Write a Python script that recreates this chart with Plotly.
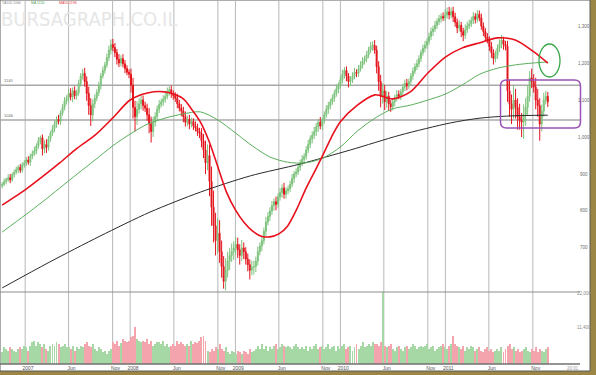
import pandas as pd
import plotly.graph_objects as go

W, H = 596, 375

# ---------------- data (weekly) ----------------
first_open = 868
closes = [
    # 2006 Oct-Dec
    872, 880, 885, 890, 884, 898, 905, 912, 918, 910, 925, 930,
    # 2007
    938, 932, 948, 955, 962, 975, 990, 998, 968, 980, 972, 995, 1010,
    1022, 1035, 1048, 1042, 1065, 1080, 1098, 1105, 1118, 1108, 1125, 1112, 1120,
    1145, 1165, 1172, 1150, 1118, 1085, 1060, 1090, 1105, 1120, 1138, 1165, 1180,
    1195, 1215, 1235, 1250, 1242, 1228, 1210, 1200, 1212, 1198, 1185, 1175, 1170,
    # 2008
    1140, 1080, 1055, 1075, 1090, 1100, 1085, 1078, 1060, 1035, 1015, 1040, 1055,
    1075, 1088, 1095, 1102, 1110, 1122, 1128, 1118, 1112, 1105, 1090, 1078, 1070,
    1055, 1040, 1048, 1035, 1042, 1030, 1025, 1015, 1010, 990, 965, 930, 950,
    880, 810, 760, 720, 740, 690, 650, 610, 640, 665, 680, 690, 700,
    # 2009
    710, 695, 680, 700, 690, 670, 655, 640, 648, 650, 665, 690, 705,
    720, 745, 770, 785, 800, 815, 825, 818, 838, 850, 862, 845, 855,
    860, 872, 888, 900, 905, 918, 930, 940, 948, 965, 980, 995, 1005,
    1015, 1028, 1040, 1030, 1045, 1060, 1075, 1085, 1095, 1105, 1118, 1130, 1140,
    # 2010
    1155, 1170, 1180, 1165, 1150, 1155, 1165, 1175, 1172, 1185, 1195, 1205, 1212,
    1222, 1235, 1245, 1248, 1235, 1190, 1150, 1110, 1125, 1095, 1110, 1090, 1082,
    1095, 1105, 1115, 1110, 1122, 1135, 1145, 1138, 1150, 1165, 1178, 1190, 1198,
    1212, 1228, 1240, 1248, 1258, 1272, 1285, 1292, 1302, 1312, 1320, 1326, 1322, 1330,
    # 2011
    1338, 1330, 1340, 1325, 1310, 1295, 1302, 1285, 1275, 1290, 1300, 1306,
    1315, 1326, 1318, 1332, 1322, 1300, 1285, 1270, 1262, 1245, 1228, 1212, 1220,
    1240, 1252, 1262, 1250, 1245, 1125, 1090, 1075, 1100, 1080, 1055, 1045, 1040, 1060,
    1080, 1110, 1160, 1150, 1135, 1100, 1085, 1035, 1070, 1100, 1110, 1095,
]
upper_wicks = [
    6, 8, 5, 9, 10, 6, 7, 8, 6, 9, 7, 8,
    8, 10, 7, 9, 12, 8, 10, 6, 9, 11, 14, 8, 7, 10, 9, 8, 12, 7, 9, 10, 8,
    11, 14, 9, 12, 8, 10, 8, 12, 15, 14, 18, 20, 12, 10, 9, 11, 8, 10,
    8, 10, 12, 14, 15, 12, 10, 14, 9, 12, 10, 9, 8,
    15, 20, 18, 22, 15, 14, 12, 10, 12, 18, 20, 15, 12, 10, 12, 9, 11,
    10, 12, 9, 11, 8, 9, 12, 10, 11, 12, 14, 10, 12, 10, 9, 12, 11, 10,
    14, 18, 25, 30, 30, 40, 45, 35, 40, 35, 30, 28, 32, 25, 20, 22, 18,
    20, 18, 15, 22, 15, 12, 15, 14, 18, 15, 12, 14, 10, 12, 10, 14, 12,
    10, 12, 9, 14, 10, 12, 10, 14, 9, 9, 10, 12, 8, 10, 10, 9, 11, 8,
    10, 12, 9, 10, 12, 10, 9, 14, 8, 9, 11, 10, 8, 10, 9, 12, 8,
    10, 12, 9, 11, 8, 9, 10, 12, 8, 9, 10, 11, 8, 10, 9, 12, 11, 14,
    12, 15, 18, 20, 16, 14, 12, 10, 10, 9, 12, 11, 8, 9, 10, 12, 8,
    8, 10, 9, 11, 9, 8, 10, 12, 9, 10, 11, 9, 12, 9, 10, 8, 11, 14,
    12, 14, 10, 12, 11, 10, 14, 9, 10, 14, 12, 11, 10, 12, 9, 11, 10,
    12, 10, 9, 11, 10, 12, 9, 14, 10, 12, 14, 9, 10, 15, 30, 25, 40,
    30, 25, 35, 20, 28, 25, 30, 18, 25, 20, 25, 30, 20, 18, 20, 15, 12,
]
lower_wicks = [
    7, 5, 8, 6, 9, 5, 8, 6, 10, 7, 6, 8,
    9, 7, 10, 8, 6, 9, 7, 10, 18, 12, 15, 9, 8, 7, 9, 10, 8, 9, 7, 8, 10,
    12, 9, 14, 10, 11, 8, 9, 10, 14, 20, 25, 30, 18, 12, 8, 9, 10, 7,
    9, 8, 10, 12, 10, 12, 14, 11, 9, 10, 12, 8, 11,
    20, 30, 40, 22, 12, 15, 14, 10, 16, 25, 30, 15, 12, 9, 10, 8, 11,
    9, 8, 10, 12, 11, 10, 12, 9, 14, 15, 12, 10, 14, 9, 11, 10, 12, 13,
    18, 22, 30, 20, 40, 50, 45, 40, 35, 30, 30, 20, 25, 20, 25, 18, 22,
    18, 22, 25, 15, 20, 15, 18, 25, 14, 20, 15, 12, 10, 14, 10, 12, 9,
    12, 10, 14, 16, 9, 10, 14, 12, 11, 10, 9, 8, 12, 9, 8, 10, 9, 11,
    9, 8, 10, 12, 10, 12, 14, 9, 11, 9, 8, 12, 10, 8, 10, 9, 12,
    9, 10, 12, 14, 16, 12, 9, 8, 10, 9, 8, 10, 9, 10, 9, 8, 12, 10,
    18, 25, 30, 20, 22, 16, 20, 14, 10, 12, 9, 8, 10, 9, 11, 12, 8,
    9, 10, 8, 9, 10, 9, 8, 11, 9, 9, 10, 12, 8, 10, 9, 11, 8, 9,
    10, 12, 9, 14, 12, 14, 10, 15, 16, 10, 9, 8, 9, 10, 11, 8, 9,
    10, 12, 11, 9, 12, 14, 16, 10, 9, 10, 12, 14, 11, 30, 35, 40, 25,
    30, 35, 25, 40, 45, 30, 20, 15, 18, 15, 25, 30, 45, 20, 15, 12, 14,
]
volumes = [
    3600, 5150, 4630, 4120, 5150, 4630, 4120, 3600, 4630, 5150,
    4630, 5670, 5150, 4120, 5670,
    6700, 7230, 5670, 6700, 6200,
    5150, 6200, 4630, 4120, 5670,
    6200, 5670, 6700, 6200, 5150, 5670, 6200, 5150,
    5150, 4630, 5670, 4120, 5150, 4630, 5670, 5150,
    6200, 6700, 5670, 5150, 6200, 4630, 4120, 5150,
    4630, 3600, 4120, 3080, 4120, 4630,
    6700, 6200, 7230, 5670, 6450, 7750, 7230, 6700, 7000,
    8250, 8800, 11500, 7750, 7230, 6700,
    7230, 6700, 7750, 6200, 7230, 5670, 6200, 6700,
    6700, 6200, 7230, 5670, 6200, 5150, 5670, 6200,
    5670, 7230, 6200, 6700, 6200, 5670, 6200,
    5670, 7230, 6200, 6700, 6450, 7230, 8250, 8800, 7230,
    4120, 3600, 4630, 4120, 5150, 4630, 6200,
    4630, 4120, 5150, 3600, 3080, 4120, 3600, 3080, 4120, 3600,
    3080, 4120, 3600, 3080, 4630, 3600, 4120, 4630, 5670, 4630,
    6200, 4630, 5670, 4120, 5150, 4630, 5670, 6200, 4630, 5150,
    6200, 5670, 5150, 5670, 5150, 4630, 5670, 6200, 5150, 4630,
    5150, 4630, 5670, 4120, 5150, 4630, 5670, 6200, 4630, 5150,
    5670, 4630, 5150, 6200, 4630, 5150, 5670, 4120, 5670, 4630,
    5670, 6200, 4630, 5150, 5670, 4120, 5150, 6200, 4630, 5670, 6700, 5150, 5670, 6200, 5670, 6700, 6200,
    6200, 5670, 6700, 22300, 5670,
    5150, 5670, 6200, 4630, 4120, 5150, 5670, 4630, 4120, 5150, 5670, 4630, 5150, 6200, 5670, 4630, 5150, 5670,
    5150, 5670, 6200, 4630, 5150, 5670, 4120, 4630, 5150, 5670, 6200, 5150, 4630, 5670, 6200, 8800, 6200,
    5670, 5150, 4630, 5670, 4120, 5150, 4630, 5670, 5150, 4120, 4630, 5150, 4120, 3600, 4630, 5150, 4120, 4630, 3600, 4120,
    4630, 4120, 5150, 3600, 4630, 5670, 6200, 4630, 5150, 4120, 4630, 3600, 4120, 4630, 5150, 4120, 3600, 4630, 4120, 5150, 3600, 4630, 4120, 3600, 4630, 5150,
]

red_ma_dates = ["2006-10-13", "2007-01-01", "2007-03-01", "2007-05-01", "2007-07-01", "2007-09-01",
                "2007-11-01", "2008-01-01", "2008-03-01", "2008-05-01", "2008-07-01", "2008-08-01",
                "2008-09-01", "2008-10-01", "2008-11-01", "2008-12-01", "2009-01-01", "2009-02-01",
                "2009-03-01", "2009-04-01", "2009-05-01", "2009-06-01", "2009-07-01", "2009-08-01",
                "2009-09-01", "2009-10-01", "2009-11-01", "2009-12-01", "2010-01-01", "2010-03-01",
                "2010-05-01", "2010-07-01", "2010-09-01", "2010-11-01", "2011-01-01", "2011-03-01",
                "2011-05-01", "2011-07-01", "2011-09-01", "2011-11-01", "2011-12-23"]
red_ma_values = [816, 857, 892, 930, 970, 1005, 1051, 1100, 1119, 1122, 1105, 1076, 1041, 989, 919,
                 851, 803, 768, 746, 732, 730, 738, 759, 803, 857, 903, 951, 1000, 1041, 1086,
                 1114, 1103, 1122, 1173, 1216, 1241, 1255, 1268, 1262, 1232, 1200]

green_ma_dates = ["2006-10-13", "2007-01-01", "2007-03-01", "2007-05-01", "2007-07-01", "2007-09-01",
                  "2007-11-01", "2008-01-01", "2008-03-01", "2008-05-01", "2008-07-01", "2008-09-01",
                  "2008-11-01", "2009-01-01", "2009-03-01", "2009-05-01", "2009-07-01", "2009-09-01",
                  "2009-11-01", "2010-01-01", "2010-03-01", "2010-05-01", "2010-07-01", "2010-09-01",
                  "2010-11-01", "2011-01-01", "2011-03-01", "2011-05-01", "2011-07-01", "2011-09-01",
                  "2011-11-01", "2011-12-23"]
green_ma_values = [743, 789, 824, 862, 900, 938, 976, 1008, 1035, 1051, 1062, 1068, 1046, 1011, 976,
                   946, 932, 930, 943, 973, 1016, 1051, 1076, 1086, 1100, 1116, 1141, 1170, 1186,
                   1195, 1200, 1203]

black_ma_dates = ["2006-10-13", "2007-03-27", "2007-09-18", "2008-03-10", "2008-09-01", "2009-02-22",
                  "2009-08-14", "2010-02-05", "2010-07-27", "2011-01-18", "2011-05-01", "2011-08-14",
                  "2011-12-23"]
black_ma_values = [592, 662, 732, 797, 851, 895, 927, 965, 1005, 1038, 1051, 1057, 1059]

level_values = [1140, 1046]
level_labels = ["1140", "1046"]

grid_dates = ["2007-01-01", "2007-06-01", "2007-11-01", "2008-01-01", "2008-06-01", "2008-11-01",
              "2009-01-01", "2009-06-01", "2009-11-01", "2010-01-01", "2010-06-01", "2010-11-01",
              "2011-01-01", "2011-06-01", "2011-11-01"]
x_tick_labels = ["2007", "Jun", "Nov", "2008", "Jun", "Nov", "2009", "Jun", "Nov",
                 "2010", "Jun", "Nov", "2011", "Jun", "Nov"]

y_tick_values = [1300, 1200, 1100, 1000, 900, 800, 700]
y_tick_labels = ["1,300", "1,200", "1,100", "1,000", "900", "800", "700"]
vol_tick_values = [22000, 11400]
vol_tick_labels = ["22,000", "11,400"]

legend_texts = ["TA100 1066", "MA 1150", "MA50 1196"]

assert len(closes) == len(upper_wicks) == len(lower_wicks) == len(volumes), (
    len(closes), len(upper_wicks), len(lower_wicks), len(volumes))

# ---------------- derived ----------------
dates = pd.date_range("2006-10-13", periods=len(closes), freq="7D")
opens = [first_open] + closes[:-1]
highs = [max(o, c) + u for o, c, u in zip(opens, closes, upper_wicks)]
lows = [min(o, c) - l for o, c, l in zip(opens, closes, lower_wicks)]
vol_colors = ["#a6d8a6" if c >= o else "#f4a4ac" for o, c in zip(opens, closes)]


def px(x):
    return x / W


def py(y):
    return 1 - y / H


fig = go.Figure()

fig.add_trace(go.Bar(x=dates, y=volumes, marker_color=vol_colors, marker_line_width=0,
                     width=3.4 * 86400000, xaxis="x", yaxis="y2", showlegend=False))

fig.add_trace(go.Candlestick(
    x=dates, open=opens, high=highs, low=lows, close=closes,
    increasing=dict(line=dict(color="#7cc27c", width=1), fillcolor="#8fcd8f"),
    decreasing=dict(line=dict(color="#e3141c", width=1), fillcolor="#e3141c"),
    whiskerwidth=0, xaxis="x", yaxis="y", showlegend=False))

fig.add_trace(go.Scatter(x=black_ma_dates, y=black_ma_values, mode="lines",
                         line=dict(color="#2a2a2a", width=1, shape="spline", smoothing=0.8),
                         xaxis="x", yaxis="y", showlegend=False))
fig.add_trace(go.Scatter(x=green_ma_dates, y=green_ma_values, mode="lines",
                         line=dict(color="#5aae5a", width=1, shape="spline", smoothing=0.8),
                         xaxis="x", yaxis="y", showlegend=False))
fig.add_trace(go.Scatter(x=red_ma_dates, y=red_ma_values, mode="lines",
                         line=dict(color="#e8101c", width=1.6, shape="spline", smoothing=0.8),
                         xaxis="x", yaxis="y", showlegend=False))

shapes = []
shapes.append(dict(type="rect", xref="paper", yref="paper", x0=0, x1=px(590), y0=py(371), y1=1,
                   fillcolor="white", line=dict(color="#5a5a5a", width=1), layer="below"))
for d in grid_dates:
    shapes.append(dict(type="line", xref="x", yref="paper", x0=d, x1=d, y0=py(364), y1=py(0.5),
                       line=dict(color="#b8b8b8", width=1), layer="below"))
for v in level_values:
    shapes.append(dict(type="line", xref="paper", yref="y", x0=px(0), x1=px(580), y0=v, y1=v,
                       line=dict(color="#a8a8a8", width=1.5), layer="below"))
shapes.append(dict(type="line", xref="paper", yref="paper", x0=px(0), x1=px(580), y0=py(292), y1=py(292),
                   line=dict(color="#8c8c8c", width=1)))
shapes.append(dict(type="line", xref="paper", yref="paper", x0=px(0), x1=px(580), y0=py(364), y1=py(364),
                   line=dict(color="#707070", width=1.5)))
shapes.append(dict(type="circle", xref="paper", yref="paper", x0=px(539), x1=px(560), y0=py(77), y1=py(44),
                   line=dict(color="#3ca64a", width=1.3)))
x0, x1, y0, y1, r = 500.5, 580.5, 80.0, 128.0, 6.0
pts = [("M", x0 + r, y0), ("L", x1 - r, y0), ("Q", x1, y0, x1, y0 + r), ("L", x1, y1 - r),
       ("Q", x1, y1, x1 - r, y1), ("L", x0 + r, y1), ("Q", x0, y1, x0, y1 - r), ("L", x0, y0 + r),
       ("Q", x0, y0, x0 + r, y0)]
path = ""
for p in pts:
    if p[0] == "Q":
        path += f"Q {px(p[1]):.5f},{py(p[2]):.5f} {px(p[3]):.5f},{py(p[4]):.5f} "
    else:
        path += f"{p[0]} {px(p[1]):.5f},{py(p[2]):.5f} "
path += "Z"
shapes.append(dict(type="path", xref="paper", yref="paper", path=path,
                   line=dict(color="#9a52b4", width=1.5)))

annotations = []
annotations.append(dict(text="BURSAGRAPH.CO.IL", xref="paper", yref="paper", x=px(0), y=py(18.5),
                        xanchor="left", yanchor="middle", showarrow=False, borderpad=0,
                        font=dict(family="Liberation Sans Narrow, DejaVu Sans Condensed, Liberation Sans",
                                  size=20, color="#e6e6e6")))
for txt, xx, col in zip(legend_texts, [1, 30, 58], ["#8a8a8a", "#4ea84e", "#e33a3a"]):
    annotations.append(dict(text=txt, xref="paper", yref="paper", x=px(xx), y=py(3.5),
                            xanchor="left", yanchor="middle", showarrow=False, borderpad=0,
                            font=dict(size=3.5, color=col)))
for v, t in zip(y_tick_values, y_tick_labels):
    annotations.append(dict(text=t, xref="paper", yref="y", x=px(584), y=v, xanchor="center",
                            yanchor="middle", showarrow=False, font=dict(size=4.5, color="#6a6a6a")))
for v, t in zip(vol_tick_values, vol_tick_labels):
    annotations.append(dict(text=t, xref="paper", yref="y2", x=px(584), y=v, xanchor="center",
                            yanchor="middle", showarrow=False, font=dict(size=4.5, color="#8a8a8a")))
for v, t in zip(level_values, level_labels):
    annotations.append(dict(text=t, xref="paper", yref="y", x=px(2), y=v, xanchor="left",
                            yanchor="bottom", showarrow=False, font=dict(size=4, color="#6a6a6a")))
annotations.append(dict(text="20:01", xref="paper", yref="paper", x=px(573), y=py(368.5),
                        xanchor="center", yanchor="middle", showarrow=False,
                        font=dict(size=4.5, color="#9a9a9a")))

tickvals = [pd.Timestamp(d) + pd.Timedelta(days=10) for d in grid_dates]

fig.update_layout(
    width=W, height=H,
    margin=dict(l=0, r=0, t=0, b=0),
    paper_bgcolor="#9b8645",
    plot_bgcolor="rgba(0,0,0,0)",
    font=dict(family="Liberation Sans, Arial, sans-serif"),
    showlegend=False,
    shapes=shapes,
    annotations=annotations,
    xaxis=dict(type="date", range=["2006-10-09", "2012-04-13"], domain=[px(1), px(580)],
               anchor="y2", showgrid=False, zeroline=False, showline=False, ticks="",
               tickvals=tickvals, ticktext=x_tick_labels, tickfont=dict(size=5, color="#555555"),
               rangeslider=dict(visible=False)),
    yaxis=dict(domain=[py(292), py(2)], range=[581, 1365], anchor="x", showgrid=False,
               zeroline=False, showticklabels=False, showline=False),
    yaxis2=dict(domain=[py(364), py(292)], range=[0, 22310], anchor="x", showgrid=False,
                zeroline=False, showticklabels=False, showline=False),
    bargap=0,
)

fig.write_html("out.html", config={"displayModeBar": False},
               post_script="document.body.style.margin='0';document.body.style.overflow='hidden';")
